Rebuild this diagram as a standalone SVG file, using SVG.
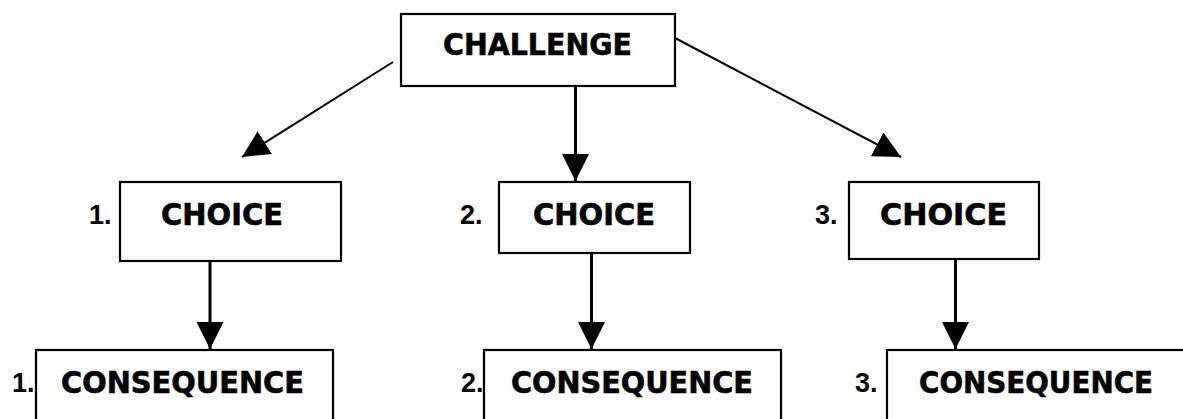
<svg xmlns="http://www.w3.org/2000/svg" width="1183" height="419" viewBox="0 0 1183 419">
<style>
.box{fill:#fff;stroke:#000;stroke-width:2.2}
.t{font-family:"DejaVu Sans",Verdana,sans-serif;font-weight:bold;font-size:30px;fill:#000;stroke:#000;stroke-width:0.6}
.n{font-family:"Liberation Sans",Arial,sans-serif;font-weight:bold;font-size:27px;fill:#000}
.c{stroke:#000;stroke-width:2;fill:none;marker-end:url(#ah)}
.v{stroke-width:3}
</style>
<defs>
<marker id="ah" markerUnits="userSpaceOnUse" markerWidth="28" markerHeight="28" refX="27" refY="13.5" orient="auto">
<path d="M0,0 L27,13.5 L0,27 z" fill="#000"/>
</marker>
</defs>
<rect width="1183" height="419" fill="#fff"/>
<g id="connectors">
<line class="c" x1="393" y1="62" x2="242" y2="157"/>
<line class="c" x1="675" y1="38" x2="901" y2="157"/>
<line class="c v" x1="575.5" y1="86" x2="575.5" y2="181"/>
<line class="c v" x1="210" y1="261" x2="210" y2="349"/>
<line class="c v" x1="591.5" y1="253" x2="591.5" y2="349"/>
<line class="c v" x1="955.5" y1="259" x2="955.5" y2="349"/>
</g>
<g id="challenge">
<rect class="box" x="401" y="14" width="274" height="72"/>
<text class="t" x="443" y="55" textLength="189" lengthAdjust="spacingAndGlyphs">CHALLENGE</text>
</g>
<g id="choice1">
<rect class="box" x="120" y="182" width="221" height="79"/>
<text class="n" x="89" y="224">1.</text>
<text class="t" x="161" y="225" textLength="122" lengthAdjust="spacingAndGlyphs">CHOICE</text>
</g>
<g id="choice2">
<rect class="box" x="499" y="182" width="191" height="71"/>
<text class="n" x="460" y="224">2.</text>
<text class="t" x="533" y="225" textLength="122" lengthAdjust="spacingAndGlyphs">CHOICE</text>
</g>
<g id="choice3">
<rect class="box" x="849" y="182" width="190" height="77"/>
<text class="n" x="815" y="224">3.</text>
<text class="t" x="880" y="225" textLength="127" lengthAdjust="spacingAndGlyphs">CHOICE</text>
</g>
<g id="consequence1">
<rect class="box" x="36" y="350" width="297" height="80"/>
<text class="n" x="12" y="392">1.</text>
<text class="t" x="61" y="393" textLength="243" lengthAdjust="spacingAndGlyphs">CONSEQUENCE</text>
</g>
<g id="consequence2">
<rect class="box" x="484" y="350" width="297" height="80"/>
<text class="n" x="461" y="392">2.</text>
<text class="t" x="511" y="393" textLength="242" lengthAdjust="spacingAndGlyphs">CONSEQUENCE</text>
</g>
<g id="consequence3">
<rect class="box" x="887" y="350" width="300" height="80"/>
<text class="n" x="855" y="392">3.</text>
<text class="t" x="919" y="393" textLength="234" lengthAdjust="spacingAndGlyphs">CONSEQUENCE</text>
</g>
</svg>
